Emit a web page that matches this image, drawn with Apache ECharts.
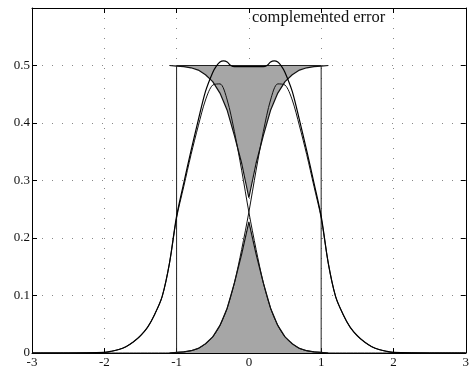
<!DOCTYPE html>
<html>
<head>
<meta charset="utf-8">
<script src="https://cdn.jsdelivr.net/npm/echarts@6/dist/echarts.min.js"></script>
<style>
  html, body { margin: 0; padding: 0; background: #fff; }
  #chart { width: 472px; height: 369px; }
</style>
</head>
<body>
<div id="chart"></div>
<script>
// x positions of the component bells (step 0.1 from -2 to 2, plus the flat tails)
const xs = [-3, -2.5,
  -2.0, -1.9, -1.8, -1.7, -1.6, -1.5, -1.4, -1.3, -1.2, -1.1,
  -1.0, -0.9, -0.8, -0.7, -0.6, -0.5, -0.4, -0.3, -0.2, -0.1,
  0.0, 0.1, 0.2, 0.3, 0.4, 0.5, 0.6, 0.7, 0.8, 0.9,
  1.0, 1.1, 1.2, 1.3, 1.4, 1.5, 1.6, 1.7, 1.8, 1.9, 2.0,
  2.5, 3];

// left component bell
const leftBell = [0, 0,
  0.001, 0.003, 0.006, 0.011, 0.019, 0.030, 0.045, 0.068, 0.098, 0.155,
  0.235, 0.290, 0.345, 0.395, 0.440, 0.466, 0.468, 0.440, 0.385, 0.318,
  0.245, 0.180, 0.122, 0.078, 0.048, 0.028, 0.016, 0.008, 0.004, 0.002,
  0.001, 0, 0, 0, 0, 0, 0, 0, 0, 0, 0,
  0, 0];

// right component bell
const rightBell = [0, 0,
  0, 0, 0, 0, 0, 0, 0, 0, 0, 0,
  0.001, 0.002, 0.004, 0.008, 0.016, 0.028, 0.048, 0.078, 0.122, 0.180,
  0.245, 0.318, 0.385, 0.440, 0.468, 0.466, 0.440, 0.395, 0.345, 0.290,
  0.235, 0.155, 0.098, 0.068, 0.045, 0.030, 0.019, 0.011, 0.006, 0.003, 0.001,
  0, 0];

// sum of the two components (outer curve), finer near the small overshoots
const sumX = [-3, -2.5,
  -2.0, -1.9, -1.8, -1.7, -1.6, -1.5, -1.4, -1.3, -1.2, -1.1,
  -1.0, -0.9, -0.8, -0.7, -0.6, -0.5, -0.45, -0.4, -0.35, -0.3, -0.25, -0.2, -0.1,
  0.0, 0.1, 0.2, 0.25, 0.3, 0.35, 0.4, 0.45, 0.5, 0.6, 0.7, 0.8, 0.9,
  1.0, 1.1, 1.2, 1.3, 1.4, 1.5, 1.6, 1.7, 1.8, 1.9, 2.0,
  2.5, 3];
const sumVals = [0, 0,
  0.001, 0.003, 0.006, 0.011, 0.019, 0.030, 0.045, 0.068, 0.098, 0.155,
  0.238, 0.296, 0.352, 0.405, 0.455, 0.488, 0.499, 0.506, 0.508, 0.506, 0.500, 0.498, 0.498,
  0.498, 0.498, 0.498, 0.500, 0.506, 0.508, 0.506, 0.499, 0.488, 0.455, 0.405, 0.352, 0.296,
  0.238, 0.155, 0.098, 0.068, 0.045, 0.030, 0.019, 0.011, 0.006, 0.003, 0.001,
  0, 0];

// error: overlap of the two bells (shaded from 0)
const errX = [-1.1, -1.0, -0.9, -0.8, -0.7, -0.6, -0.5, -0.4, -0.3, -0.2, -0.1,
  0.0, 0.1, 0.2, 0.3, 0.4, 0.5, 0.6, 0.7, 0.8, 0.9, 1.0, 1.1];
const errVals = [0, 0.001, 0.002, 0.004, 0.008, 0.016, 0.028, 0.048, 0.078, 0.122, 0.172,
  0.228, 0.172, 0.122, 0.078, 0.048, 0.028, 0.016, 0.008, 0.004, 0.002, 0.001, 0];

// complemented error: lower edge of the band hanging from 0.5
const compVals = [0.5, 0.499, 0.498, 0.496, 0.492, 0.484, 0.472, 0.452, 0.422, 0.378, 0.330,
  0.270, 0.330, 0.378, 0.422, 0.452, 0.472, 0.484, 0.492, 0.496, 0.498, 0.499, 0.5];

// rectangle (uniform level)
const boxX = [-1, -1, 1, 1];
const boxY = [0, 0.5, 0.5, 0];

const xTicks = [-3, -2, -1, 0, 1, 2, 3];
const yTicks = [0, 0.1, 0.2, 0.3, 0.4, 0.5];

const pairs = (a, b) => a.map((v, i) => [v, b[i]]);

const serif = 'Liberation Serif';
const dots = { color: '#888', width: 1, type: [1, 9] };

let chart = echarts.init(document.getElementById('chart'), null, { renderer: 'canvas' });

let options = {
  animation: false,
  backgroundColor: '#fff',
  title: {
    text: 'complemented error',
    left: 247,
    top: 4,
    textStyle: { fontFamily: serif, fontSize: 16.5, fontWeight: 'normal', color: '#111' }
  },
  grid: { left: 32, right: 5, top: 8, bottom: 15 },
  xAxis: [
    {
      type: 'value', min: -3, max: 3, interval: 1,
      axisLine: { onZero: false, lineStyle: { color: '#000', width: 1 } },
      axisTick: { inside: true, length: 5, lineStyle: { color: '#000' } },
      axisLabel: {
        margin: 3, fontFamily: serif, fontSize: 13, color: '#111',
        formatter: v => (xTicks.indexOf(v) >= 0 ? String(v) : '')
      },
      splitLine: { show: true, lineStyle: dots }
    },
    {
      type: 'value', min: -3, max: 3, interval: 1, position: 'top',
      axisLine: { show: true, onZero: false, lineStyle: { color: '#000', width: 1 } },
      axisTick: { inside: true, length: 5, lineStyle: { color: '#000' } },
      axisLabel: { show: false },
      splitLine: { show: false }
    }
  ],
  yAxis: [
    {
      type: 'value', min: 0, max: 0.6, interval: 0.1,
      axisLine: { show: true, onZero: false, lineStyle: { color: '#000', width: 1 } },
      axisTick: { show: true, inside: true, length: 5, lineStyle: { color: '#000' } },
      axisLabel: {
        margin: 2, fontFamily: serif, fontSize: 13, color: '#111',
        formatter: v => {
          let r = Math.round(v * 10) / 10;
          return yTicks.indexOf(r) >= 0 ? String(r) : '';
        }
      },
      splitLine: { show: true, lineStyle: dots }
    },
    {
      type: 'value', min: 0, max: 0.6, interval: 0.1, position: 'right',
      axisLine: { show: true, onZero: false, lineStyle: { color: '#000', width: 1 } },
      axisTick: { show: true, inside: true, length: 5, lineStyle: { color: '#000' } },
      axisLabel: { show: false },
      splitLine: { show: false }
    }
  ],
  series: [
    {
      name: 'error',
      type: 'line',
      data: pairs(errX, errVals),
      symbol: 'none',
      lineStyle: { color: '#111', width: 1.2 },
      areaStyle: { color: '#a6a6a6', opacity: 1, origin: 0 },
      z: 2
    },
    {
      name: 'complemented error',
      type: 'line',
      data: pairs(errX, compVals),
      symbol: 'none',
      lineStyle: { color: '#111', width: 1.2 },
      areaStyle: { color: '#a6a6a6', opacity: 1, origin: 0.5 },
      z: 2
    },
    {
      name: 'box',
      type: 'line',
      data: pairs(boxX, boxY),
      symbol: 'none',
      lineStyle: { color: '#222', width: 1 },
      z: 3
    },
    {
      name: 'left',
      type: 'line',
      data: pairs(xs, leftBell),
      symbol: 'none',
      smooth: 0.3,
      lineStyle: { color: '#111', width: 1 },
      z: 4
    },
    {
      name: 'right',
      type: 'line',
      data: pairs(xs, rightBell),
      symbol: 'none',
      smooth: 0.3,
      lineStyle: { color: '#111', width: 1 },
      z: 4
    },
    {
      name: 'sum',
      type: 'line',
      data: pairs(sumX, sumVals),
      symbol: 'none',
      smooth: 0.3,
      lineStyle: { color: '#000', width: 1.2 },
      z: 5
    }
  ]
};

chart.setOption(options);
</script>
</body>
</html>
